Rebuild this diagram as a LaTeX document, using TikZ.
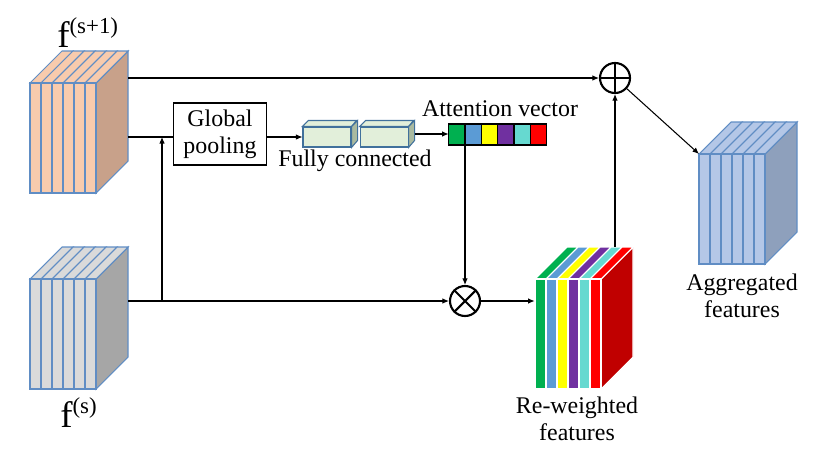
\documentclass[tikz,border=0pt]{standalone}
\usepackage{fontspec}
\setmainfont{Liberation Serif}
\usetikzlibrary{arrows.meta, positioning}

\definecolor{edgeblue}{RGB}{96,141,196}
\definecolor{peach}{RGB}{248,203,173}
\definecolor{peachside}{RGB}{200,161,138}
\definecolor{greyfront}{RGB}{218,218,218}
\definecolor{greyside}{RGB}{166,166,166}
\definecolor{aggfront}{RGB}{180,199,231}
\definecolor{aggside}{RGB}{142,160,188}
\definecolor{fcfront}{RGB}{226,239,218}
\definecolor{fcside}{RGB}{170,186,160}
\definecolor{fcedge}{RGB}{65,113,156}
\definecolor{cgreen}{RGB}{0,176,80}
\definecolor{cblue}{RGB}{91,155,213}
\definecolor{cyellow}{RGB}{255,255,0}
\definecolor{cpurple}{RGB}{112,48,160}
\definecolor{ccyan}{RGB}{102,217,208}
\definecolor{cred}{RGB}{255,0,0}
\definecolor{reddark}{RGB}{192,0,0}

% feature map block: name, front top-left corner, edge colour, side colour, slice colours
\newcommand{\featmap}[5]{%
  \begin{scope}[shift={#2}]
    \filldraw[fill=#4, draw=#3, line width=0.6pt] (66,0) -- (98,-32) -- (98,78) -- (66,110) -- cycle;
    \foreach \c [count=\i from 0] in {#5} {
      \filldraw[fill=\c, draw=#3, line width=0.6pt] (11*\i,0) -- ++(32,-32) -- ++(11,0) -- ++(-32,32) -- cycle;
      \filldraw[fill=\c, draw=#3, line width=0.6pt] (11*\i,0) rectangle ++(11,110);
    }
    \coordinate (#1 corner) at (0,0);
    \node[inner sep=0, minimum width=1.96cm, minimum height=2.84cm] (#1) at (49,39) {};
  \end{scope}}

\begin{document}
\begin{tikzpicture}[
    x=0.02cm, y=-0.02cm,
    font=\fontsize{13.6}{15.5}\selectfont,
    lbl/.style={align=center, inner sep=0pt},
    maplbl/.style={anchor=base west, inner sep=0pt, font=\fontsize{21}{21}\selectfont},
    poolbox/.style={draw, line width=0.7pt, minimum width=1.86cm, minimum height=1.24cm, align=center, inner sep=1pt},
    fcbox/.style={draw=fcedge, fill=fcfront, line width=0.6pt, minimum width=0.96cm, minimum height=0.4cm, inner sep=0pt},
    opnode/.style={draw, circle, line width=1.2pt, minimum size=0.6cm, inner sep=0pt},
    opline/.style={line width=1.2pt},
    flow/.style={-{Latex[length=1.3mm, width=1.1mm]}, line width=0.6pt},
    link/.style={line width=0.6pt}
]
\useasboundingbox (0,0) rectangle (830,460);

% input and output feature maps
\featmap{fsone}{(30,83)}{edgeblue}{peachside}{peach,peach,peach,peach,peach,peach}
\featmap{fs}{(30,279)}{edgeblue}{greyside}{greyfront,greyfront,greyfront,greyfront,greyfront,greyfront}
\featmap{rew}{(535,279)}{white}{reddark}{cgreen,cblue,cyellow,cpurple,ccyan,cred}
\featmap{agg}{(699,154)}{edgeblue}{aggside}{aggfront,aggfront,aggfront,aggfront,aggfront,aggfront}

\node[maplbl] (fsonelbl) at (57,47) {f\raisebox{7.5pt}{\fontsize{13}{13}\selectfont(s+1)}};
\node[maplbl] (fslbl) at (60,427) {f\raisebox{7.5pt}{\fontsize{13}{13}\selectfont(s)}};

% attention branch
\node[poolbox] (pool) at (220,134) {Global\\pooling};
\node[fcbox] (fcone) at (327,137) {};
\node[fcbox, right=0.16cm of fcone] (fctwo) {};
\foreach \b in {fcone, fctwo} {
  \filldraw[fill=fcfront, draw=fcedge, line width=0.6pt] (\b.north west) -- ++(6,-6) -- ++(48,0) -- (\b.north east) -- cycle;
  \filldraw[fill=fcside, draw=fcedge, line width=0.6pt] (\b.north east) -- ++(6,-6) -- ++(0,20) -- (\b.south east) -- cycle;
}
\node[lbl] (fclbl) at (355,161) {Fully connected};

\node[inner sep=0pt, minimum width=1.96cm, minimum height=0.42cm] (att) at (498,134) {};
\foreach \c [count=\i from 0] in {cgreen,cblue,cyellow,cpurple,ccyan,cred}
  \filldraw[fill=\c, draw=black, line width=0.9pt] ([xshift=\i*0.3267cm]att.south west) rectangle ++(16.33,-21);
\node[lbl] (attlbl) at (500,109) {Attention vector};

% operators
\node[opnode] (xmul) at (465,301) {};
\draw[opline] (xmul.45) -- (xmul.225) (xmul.135) -- (xmul.315);
\node[opnode] (plus) at (615,78) {};
\draw[opline] (plus.north) -- (plus.south) (plus.east) -- (plus.west);

\node[lbl] (rewlbl) at (577,419) {Re-weighted\\features};
\node[lbl] (agglbl) at (742,296) {Aggregated\\features};

% connections
\coordinate (branch) at (162,301);
\draw[flow] (fsone.east |- plus.west) -- (plus.west);
\draw[link] (fsone.east |- fcone.west) -- (pool.west |- fcone.west);
\draw[flow] (fs.east |- xmul.west) -- (xmul.west);
\draw[flow] (branch) -- (branch |- fcone.west);
\draw[flow] (pool.east |- fcone.west) -- (fcone.west);
\draw[flow] ([shift={(6,-3)}]fctwo.east) -- (att.west);
\draw[flow] (att.south -| xmul.north) -- (xmul.north);
\draw[flow] (xmul.east) -- (rew.west |- xmul.east);
\draw[flow] (plus.south |- rew.north) -- (plus.south);
\draw[flow] (plus) -- (agg corner);
\end{tikzpicture}
\end{document}
